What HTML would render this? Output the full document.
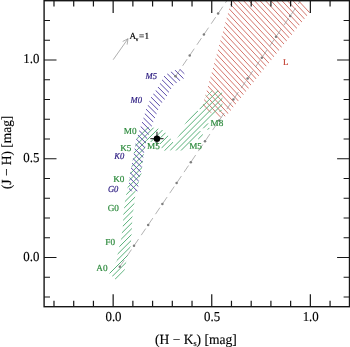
<!DOCTYPE html>
<html><head><meta charset="utf-8"><title>J-H vs H-Ks</title>
<style>
html,body{margin:0;padding:0;background:#fff;}
body{width:350px;height:347px;overflow:hidden;}
svg{display:block;will-change:transform;}
text{text-rendering:geometricPrecision;font-family:"Liberation Serif",serif;}
</style></head><body>
<svg width="350" height="347" viewBox="0 0 350 347">
<rect x="0" y="0" width="350" height="347" fill="#ffffff"/>
<clipPath id="cr"><polygon points="201.8,108.5 222.0,118.0 226.5,115.8 311.0,10.8 301.8,0.0 231.6,0.0"/></clipPath>
<g clip-path="url(#cr)" stroke="#d4756c" stroke-width="1.0" fill="none" opacity="1.0">
<path d="M199.8 -104.85L313.0 16.28M199.8 -98.97L313.0 22.15M199.8 -93.09L313.0 28.03M199.8 -87.22L313.0 33.91M199.8 -81.34L313.0 39.78M199.8 -75.47L313.0 45.66M199.8 -69.59L313.0 51.53M199.8 -63.71L313.0 57.41M199.8 -57.84L313.0 63.29M199.8 -51.96L313.0 69.16M199.8 -46.09L313.0 75.04M199.8 -40.21L313.0 80.91M199.8 -34.33L313.0 86.79M199.8 -28.46L313.0 92.67M199.8 -22.58L313.0 98.54M199.8 -16.71L313.0 104.42M199.8 -10.83L313.0 110.29M199.8 -4.95L313.0 116.17M199.8 0.92L313.0 122.05M199.8 6.80L313.0 127.92M199.8 12.67L313.0 133.80M199.8 18.55L313.0 139.67M199.8 24.43L313.0 145.55M199.8 30.30L313.0 151.43M199.8 36.18L313.0 157.30M199.8 42.05L313.0 163.18M199.8 47.93L313.0 169.05M199.8 53.81L313.0 174.93M199.8 59.68L313.0 180.81M199.8 65.56L313.0 186.68M199.8 71.43L313.0 192.56M199.8 77.31L313.0 198.43M199.8 83.19L313.0 204.31M199.8 89.06L313.0 210.19M199.8 94.94L313.0 216.06M199.8 100.81L313.0 221.94"/>
</g>
<clipPath id="cg"><polygon points="108.8,272.7 116.0,280.0 124.6,270.6 126.2,262.1 127.7,255.0 130.7,246.0 131.9,228.3 132.4,216.4 134.5,202.6 135.7,191.0 141.2,175.0 143.7,155.1 146.7,140.0 147.5,141.5 152.0,142.0 160.0,144.0 162.0,149.0 166.0,151.5 169.0,150.0 173.5,144.0 173.0,141.5 168.0,135.5 163.5,130.5 158.8,128.8 149.0,126.8 139.5,132.0 136.1,140.0 133.6,155.1 130.0,175.0 125.1,200.6 123.4,213.7 122.9,226.0 121.1,239.0 117.7,253.7 116.8,260.7"/></clipPath>
<g clip-path="url(#cg)" stroke="#58b079" stroke-width="1.0" fill="none" opacity="1.0">
<path d="M106.8 287.50L175.5 218.80M106.8 281.85L175.5 213.15M106.8 276.20L175.5 207.50M106.8 270.55L175.5 201.85M106.8 264.90L175.5 196.20M106.8 259.25L175.5 190.55M106.8 253.60L175.5 184.90M106.8 247.95L175.5 179.25M106.8 242.30L175.5 173.60M106.8 236.65L175.5 167.95M106.8 231.00L175.5 162.30M106.8 225.35L175.5 156.65M106.8 219.70L175.5 151.00M106.8 214.05L175.5 145.35M106.8 208.40L175.5 139.70M106.8 202.75L175.5 134.05M106.8 197.10L175.5 128.40M106.8 191.45L175.5 122.75M106.8 185.80L175.5 117.10M106.8 180.15L175.5 111.45M106.8 174.50L175.5 105.80M106.8 168.85L175.5 100.15"/>
</g>
<clipPath id="cl"><polygon points="169.6,150.6 178.9,135.4 185.9,122.6 207.6,95.2 211.9,90.8 218.6,90.8 222.4,92.8 222.4,107.0 178.8,150.6"/></clipPath>
<g clip-path="url(#cl)" stroke="#58b079" stroke-width="1.0" fill="none" opacity="1.0">
<path d="M167.6 135.30L224.4 78.50M167.6 141.20L224.4 84.40M167.6 147.10L224.4 90.30M167.6 153.00L224.4 96.20M167.6 158.90L224.4 102.10"/>
</g>
<path d="M197.8 111.00L199.6 109.20" stroke="#fff" stroke-width="2.4" fill="none"/>
<path d="M181.0 150.50L200.4 131.10M203.2 128.30L208.1 123.40M219.6 111.90L221.6 109.90M198.2 139.10L202.8 134.50M207.6 129.70L209.4 127.90" stroke="#58b079" stroke-width="1" fill="none"/>
<clipPath id="cb"><polygon points="129.0,191.2 138.0,191.2 138.7,181.0 141.2,170.0 143.7,155.1 146.7,140.0 153.4,121.8 159.9,105.5 165.0,99.1 169.0,92.2 173.6,85.1 180.5,80.2 184.5,78.0 184.3,72.7 180.6,69.0 175.9,70.1 171.3,71.5 167.9,73.3 164.1,76.1 160.1,83.3 155.8,90.2 151.1,97.2 146.1,109.3 143.5,117.9 136.1,140.0 133.6,155.1 130.1,172.7 129.0,183.2"/></clipPath>
<g clip-path="url(#cb)" stroke="#5a4aaa" stroke-width="1.0" fill="none" opacity="1.0">
<path d="M127.0 186.51L186.5 246.01M127.0 180.84L186.5 240.34M127.0 175.17L186.5 234.67M127.0 169.50L186.5 229.00M127.0 163.83L186.5 223.33M127.0 158.16L186.5 217.66M127.0 152.49L186.5 211.99M127.0 146.82L186.5 206.32M127.0 141.15L186.5 200.65M127.0 135.48L186.5 194.98M127.0 129.81L186.5 189.31M127.0 124.14L186.5 183.64M127.0 118.47L186.5 177.97M127.0 112.80L186.5 172.30M127.0 107.13L186.5 166.63M127.0 101.46L186.5 160.96M127.0 95.79L186.5 155.29M127.0 90.12L186.5 149.62M127.0 84.45L186.5 143.95M127.0 78.78L186.5 138.28M127.0 73.11L186.5 132.61M127.0 67.44L186.5 126.94M127.0 61.77L186.5 121.27M127.0 56.10L186.5 115.60M127.0 50.43L186.5 109.93M127.0 44.76L186.5 104.26M127.0 39.09L186.5 98.59M127.0 33.42L186.5 92.92M127.0 27.75L186.5 87.25M127.0 22.08L186.5 81.58M127.0 16.41L186.5 75.91"/>
</g>
<line x1="119.80" y1="266.70" x2="300.14" y2="1.27" stroke="#8a8a8a" stroke-width="0.65" stroke-dasharray="8 4.7" fill="none"/>
<circle cx="119.80" cy="266.70" r="1.25" fill="#7e7e7e"/>
<circle cx="134.00" cy="245.80" r="1.25" fill="#7e7e7e"/>
<circle cx="148.20" cy="224.90" r="1.25" fill="#7e7e7e"/>
<circle cx="162.40" cy="204.00" r="1.25" fill="#7e7e7e"/>
<circle cx="176.60" cy="183.10" r="1.25" fill="#7e7e7e"/>
<circle cx="190.80" cy="162.20" r="1.25" fill="#7e7e7e"/>
<circle cx="205.00" cy="141.30" r="1.25" fill="#7e7e7e"/>
<circle cx="219.20" cy="120.40" r="1.25" fill="#7e7e7e"/>
<circle cx="233.40" cy="99.50" r="1.25" fill="#7e7e7e"/>
<circle cx="247.60" cy="78.60" r="1.25" fill="#7e7e7e"/>
<circle cx="261.80" cy="57.70" r="1.25" fill="#7e7e7e"/>
<circle cx="276.00" cy="36.80" r="1.25" fill="#7e7e7e"/>
<circle cx="290.20" cy="15.90" r="1.25" fill="#7e7e7e"/>
<line x1="175.50" y1="76.30" x2="227.19" y2="0.22" stroke="#8a8a8a" stroke-width="0.65" stroke-dasharray="8 4.7" fill="none"/>
<circle cx="175.50" cy="76.30" r="1.25" fill="#7e7e7e"/>
<circle cx="189.70" cy="55.40" r="1.25" fill="#7e7e7e"/>
<circle cx="203.90" cy="34.50" r="1.25" fill="#7e7e7e"/>
<circle cx="218.10" cy="13.60" r="1.25" fill="#7e7e7e"/>
<g stroke="#8c8c8c" stroke-width="0.7" fill="none">
<line x1="113.2" y1="59.7" x2="128.0" y2="38.7"/>
<line x1="128.0" y1="38.7" x2="127.15" y2="44.64"/>
<line x1="128.0" y1="38.7" x2="122.69" y2="41.50"/>
</g>
<g stroke="#2a2a2a" stroke-width="1.15" fill="#000">
<line x1="150.35" y1="138.65" x2="163.54999999999998" y2="138.65"/>
<line x1="156.95" y1="131.75" x2="156.95" y2="145.55"/>
<circle cx="156.95" cy="138.65" r="3.2" stroke="none"/>
</g>
<g stroke="#161616" stroke-width="1.4" fill="none" stroke-linecap="butt">
<rect x="44.1" y="0.7" width="305.4" height="306.0"/>
<path d="M53.99 306.7V300.80M53.99 0.7V6.60M73.71 306.7V300.80M73.71 0.7V6.60M93.43 306.7V300.80M93.43 0.7V6.60M113.15 306.7V294.30M113.15 0.7V13.10M132.87 306.7V300.80M132.87 0.7V6.60M152.59 306.7V300.80M152.59 0.7V6.60M172.31 306.7V300.80M172.31 0.7V6.60M192.03 306.7V300.80M192.03 0.7V6.60M211.75 306.7V294.30M211.75 0.7V13.10M231.47 306.7V300.80M231.47 0.7V6.60M251.19 306.7V300.80M251.19 0.7V6.60M270.91 306.7V300.80M270.91 0.7V6.60M290.63 306.7V300.80M290.63 0.7V6.60M310.35 306.7V294.30M310.35 0.7V13.10M330.07 306.7V300.80M330.07 0.7V6.60M44.1 297.00H50.00M349.5 297.00H343.60M44.1 277.25H50.00M349.5 277.25H343.60M44.1 257.50H56.50M349.5 257.50H337.10M44.1 237.75H50.00M349.5 237.75H343.60M44.1 218.00H50.00M349.5 218.00H343.60M44.1 198.25H50.00M349.5 198.25H343.60M44.1 178.50H50.00M349.5 178.50H343.60M44.1 158.75H56.50M349.5 158.75H337.10M44.1 139.00H50.00M349.5 139.00H343.60M44.1 119.25H50.00M349.5 119.25H343.60M44.1 99.50H50.00M349.5 99.50H343.60M44.1 79.75H50.00M349.5 79.75H343.60M44.1 60.00H56.50M349.5 60.00H337.10M44.1 40.25H50.00M349.5 40.25H343.60M44.1 20.50H50.00M349.5 20.50H343.60" stroke-width="1.2"/>
</g>
<text transform="translate(113.5,320.5) scale(0.94,1)" fill="#000" text-anchor="middle" style="font-size:13.7px;" stroke="#000" stroke-width="0.15">0.0</text>
<text transform="translate(39.4,260.9) scale(0.94,1)" fill="#000" text-anchor="end" style="font-size:13.7px;" stroke="#000" stroke-width="0.15">0.0</text>
<text transform="translate(212.1,320.5) scale(0.94,1)" fill="#000" text-anchor="middle" style="font-size:13.7px;" stroke="#000" stroke-width="0.15">0.5</text>
<text transform="translate(39.4,162.2) scale(0.94,1)" fill="#000" text-anchor="end" style="font-size:13.7px;" stroke="#000" stroke-width="0.15">0.5</text>
<text transform="translate(310.7,320.5) scale(0.94,1)" fill="#000" text-anchor="middle" style="font-size:13.7px;" stroke="#000" stroke-width="0.15">1.0</text>
<text transform="translate(39.4,63.4) scale(0.94,1)" fill="#000" text-anchor="end" style="font-size:13.7px;" stroke="#000" stroke-width="0.15">1.0</text>
<text transform="translate(195.9,343.9) scale(0.965,1)" fill="#000" text-anchor="middle" style="font-size:14px;" stroke="#000" stroke-width="0.15">(H &#8722; K<tspan dy="2.3" style="font-size:8.5px">s</tspan><tspan dy="-2.3">)</tspan> [mag]</text>
<text transform="translate(10.8,152.4) rotate(-90) scale(0.965,1)" text-anchor="middle" stroke="#000" stroke-width="0.15" style="font-size:13.9px">(J &#8722; H) [mag]</text>
<text transform="translate(129.5,39.2) scale(1.0,1)" fill="#000" text-anchor="start" style="font-size:9.2px;" stroke="#000" stroke-width="0.2">A<tspan dy="1.6" dx="-0.3" style="font-size:5px">v</tspan><tspan dy="-1.6" dx="0.6">=</tspan><tspan dx="0.3">1</tspan></text>
<text transform="translate(96.30000000000001,271.0) scale(1.0,1)" fill="#2e8b3e" text-anchor="start" style="font-size:9.2px;" stroke="#2e8b3e" stroke-width="0.2">A0</text>
<text transform="translate(105.30000000000001,245.0) scale(1.0,1)" fill="#2e8b3e" text-anchor="start" style="font-size:9.2px;" stroke="#2e8b3e" stroke-width="0.2">F0</text>
<text transform="translate(107.7,210.9) scale(1.0,1)" fill="#2e8b3e" text-anchor="start" style="font-size:9.2px;" stroke="#2e8b3e" stroke-width="0.2">G0</text>
<text transform="translate(113.2,182.0) scale(1.0,1)" fill="#2e8b3e" text-anchor="start" style="font-size:9.2px;" stroke="#2e8b3e" stroke-width="0.2">K0</text>
<text transform="translate(120.2,150.8) scale(1.0,1)" fill="#2e8b3e" text-anchor="start" style="font-size:9.2px;" stroke="#2e8b3e" stroke-width="0.2">K5</text>
<text transform="translate(123.80000000000001,134.3) scale(1.0,1)" fill="#2e8b3e" text-anchor="start" style="font-size:9.2px;" stroke="#2e8b3e" stroke-width="0.2">M0</text>
<text transform="translate(147.0,149.3) scale(1.0,1)" fill="#2e8b3e" text-anchor="start" style="font-size:9.2px;" stroke="#2e8b3e" stroke-width="0.2">M5</text>
<text transform="translate(189.20000000000002,148.5) scale(1.0,1)" fill="#2e8b3e" text-anchor="start" style="font-size:9.2px;" stroke="#2e8b3e" stroke-width="0.2">M5</text>
<text transform="translate(210.6,126.3) scale(1.0,1)" fill="#2e8b3e" text-anchor="start" style="font-size:9.2px;" stroke="#2e8b3e" stroke-width="0.2">M8</text>
<text transform="translate(107.89999999999999,192.1) scale(0.93,1)" fill="#2a1a80" text-anchor="start" style="font-size:9.2px;font-style:italic;" stroke="#2a1a80" stroke-width="0.2">G0</text>
<text transform="translate(114.3,159.4) scale(0.93,1)" fill="#2a1a80" text-anchor="start" style="font-size:9.2px;font-style:italic;" stroke="#2a1a80" stroke-width="0.2">K0</text>
<text transform="translate(130.6,102.8) scale(0.93,1)" fill="#2a1a80" text-anchor="start" style="font-size:9.2px;font-style:italic;" stroke="#2a1a80" stroke-width="0.2">M0</text>
<text transform="translate(145.6,79.4) scale(0.93,1)" fill="#2a1a80" text-anchor="start" style="font-size:9.2px;font-style:italic;" stroke="#2a1a80" stroke-width="0.2">M5</text>
<text transform="translate(283.1,64.7) scale(1.0,1)" fill="#c0392b" text-anchor="start" style="font-size:8.8px;" stroke="#c0392b" stroke-width="0.2">L</text>
</svg></body></html>
